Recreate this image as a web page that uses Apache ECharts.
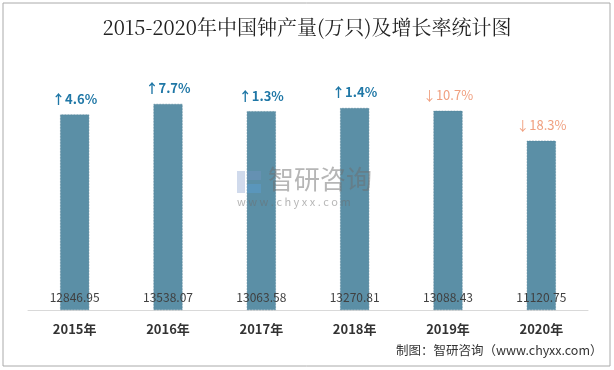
<!DOCTYPE html>
<html><head><meta charset="utf-8">
<script src="https://cdn.jsdelivr.net/npm/echarts@6/dist/echarts.min.js"></script>
<style>html,body{margin:0;padding:0;background:#fff}#c{width:614px;height:370px}</style>
</head><body><div id="c"></div>
<script>
var years = ['2015年','2016年','2017年','2018年','2019年','2020年'];
var output = [12846.95, 13538.07, 13063.58, 13270.81, 13088.43, 11120.75];
var growth = [4.6, 7.7, 1.3, 1.4, -10.7, -18.3];

var chart = echarts.init(document.getElementById('c'), null, {renderer:'canvas'});
var font = '"Noto Sans CJK SC","Noto Sans",sans-serif';
chart.setOption({
  backgroundColor:'#fff',
  animation:false,
  title:{text:'2015-2020年中国钟产量(万只)及增长率统计图', left:'center', top:12,
    textStyle:{fontFamily:'"Noto Serif CJK SC","Noto Sans CJK SC",serif', fontSize:20, fontWeight:'normal', color:'#222'}},
  grid:{left:28, right:26, top:66.5, bottom:60},
  xAxis:{type:'category', data:years,
    axisLine:{lineStyle:{color:'#d9d9d9'}}, axisTick:{show:false},
    axisLabel:{fontFamily:font, fontSize:13, fontWeight:'bold', color:'#333', margin:13}},
  yAxis:{type:'value', min:0, max:16000, show:false, splitLine:{show:false}},
  graphic:[
    {type:'rect', z:100, shape:{x:3,y:3,width:607,height:363}, style:{fill:'none', stroke:'#aaa', lineWidth:1}},
    {type:'text', z:100, left:396, top:344, style:{text:'制图：智研咨询（www.chyxx.com）', font:'12.5px '+font, fill:'#333'}},
    {type:'group', left:237, top:166, z:100, silent:true, children:[
      {type:'rect', z:100, shape:{x:0,y:2,width:8,height:22}, style:{fill:'rgba(120,150,200,0.35)'}},
      {type:'rect', z:100, shape:{x:10,y:2,width:14,height:9}, style:{fill:'rgba(120,150,200,0.35)'}},
      {type:'rect', z:100, shape:{x:10,y:15,width:14,height:9}, style:{fill:'rgba(90,160,220,0.4)'}},
      {type:'text', z:100, x:31, y:-3, style:{text:'智研咨询', font:'26px '+font, fill:'rgba(110,110,110,0.5)'}},
      {type:'text', z:100, x:0, y:27, style:{text:'w w w . c h y x x . c o m', font:'11px '+font, fill:'rgba(110,110,110,0.5)'}}
    ]}
  ],
  series:[
    {type:'bar', data:output, barWidth:29, itemStyle:{color:'#5b8fa6', borderColor:'#4f7f95', borderWidth:0.5, borderType:'dashed'},
      label:{show:true, position:'top', distance:9,
        formatter:function(p){var g=growth[p.dataIndex]; return g>=0 ? '{u|↑'+g.toFixed(1)+'%}' : '{d|↓'+Math.abs(g).toFixed(1)+'%}';},
        rich:{u:{fontFamily:font, fontSize:13, fontWeight:'bold', color:'#1f77a6'},
              d:{fontFamily:font, fontSize:13, color:'#f0a080'}}}},
    {type:'bar', data:output, barWidth:29, barGap:'-100%', itemStyle:{color:'rgba(0,0,0,0)'},
      label:{show:true, position:'insideBottom', distance:7, fontFamily:font, fontSize:12, color:'#404040',
        formatter:function(p){return output[p.dataIndex].toFixed(2);}}}
  ]
});
</script></body></html>
